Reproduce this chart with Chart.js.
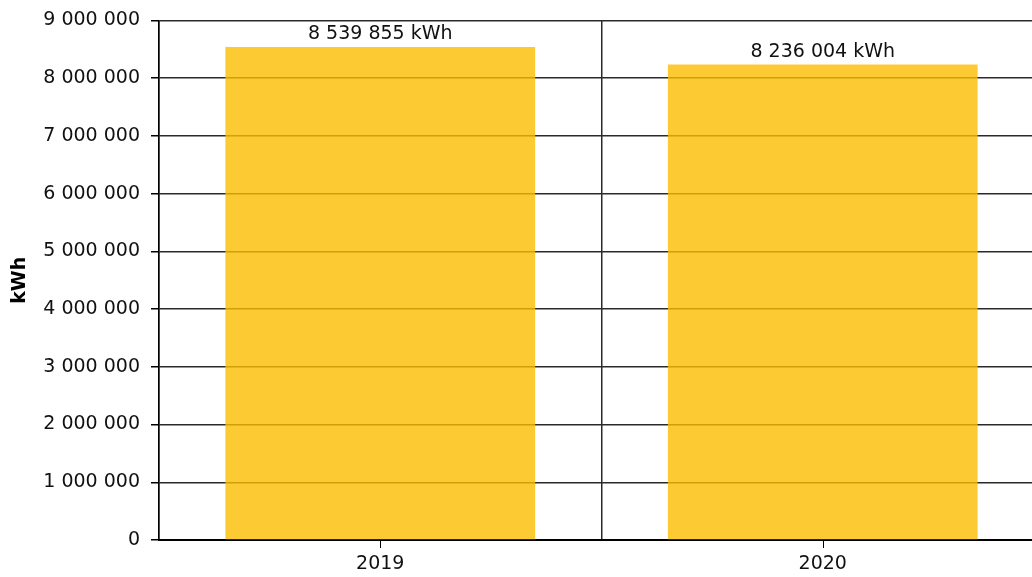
<!DOCTYPE html>
<html>
<head>
<meta charset="utf-8">
<script src="https://cdn.jsdelivr.net/npm/chart.js@4/dist/chart.umd.min.js"></script>
<style>
  html, body { margin: 0; padding: 0; background: #ffffff; overflow: hidden; }
  #wrap { width: 1032px; height: 577px; position: relative; overflow: hidden; }
</style>
</head>
<body>
<div id="wrap"><canvas id="c" width="1044" height="577"></canvas></div>
<script>
const categories = ['2019', '2020'];
const consumption = [8539855, 8236004];
const unit = 'kWh';
const yMax = 9000000;
const yStep = 1000000;

function fmt(v) {
  return String(Math.round(v)).replace(/\B(?=(\d{3})+(?!\d))/g, ' ');
}

const FONT = "'DejaVu Sans', Verdana, sans-serif";

const extras = {
  id: 'extras',
  afterDatasetsDraw(chart) {
    const ctx = chart.ctx;
    const meta = chart.getDatasetMeta(0);
    ctx.save();
    ctx.font = '19px ' + FONT;
    ctx.fillStyle = '#111111';
    ctx.textAlign = 'center';
    ctx.textBaseline = 'alphabetic';
    meta.data.forEach((bar, i) => {
      ctx.fillText(fmt(consumption[i]) + ' ' + unit, bar.x, bar.y - 8);
    });
    ctx.restore();
  },
  afterDraw(chart) {
    const ctx = chart.ctx;
    const xs = chart.scales.x;
    const bottom = chart.chartArea.bottom;
    ctx.save();
    ctx.strokeStyle = '#000000';
    ctx.lineWidth = 1;
    categories.forEach((c, i) => {
      const x = Math.round(xs.getPixelForValue(i)) + 0.5;
      ctx.beginPath();
      ctx.moveTo(x, bottom);
      ctx.lineTo(x, bottom + 8);
      ctx.stroke();
    });
    ctx.restore();
  }
};

new Chart(document.getElementById('c'), {
  type: 'bar',
  data: {
    labels: categories,
    datasets: [{
      data: consumption,
      backgroundColor: 'rgba(251,190,0,0.8)',
      borderWidth: 0,
      categoryPercentage: 0.7,
      barPercentage: 1.0
    }]
  },
  options: {
    responsive: false,
    animation: false,
    devicePixelRatio: 1,
    layout: { padding: { top: 19, right: 0, bottom: 0, left: 0 } },
    plugins: {
      legend: { display: false },
      tooltip: { enabled: false }
    },
    scales: {
      x: {
        offset: true,
        grid: {
          offset: true,
          drawTicks: false,
          color: '#2a2a2a',
          lineWidth: 1.5
        },
        border: { display: true, color: '#000000', width: 2 },
        ticks: {
          color: '#111111',
          font: { family: FONT, size: 19 },
          padding: 13,
          maxRotation: 0
        },
        afterFit(s) { s.height = 37; }
      },
      y: {
        min: 0,
        max: yMax,
        grid: {
          color: '#2a2a2a',
          lineWidth: 1.5,
          drawTicks: true,
          tickLength: 8,
          tickColor: '#000000'
        },
        border: { display: true, color: '#000000', width: 1.5 },
        ticks: {
          stepSize: yStep,
          color: '#111111',
          font: { family: FONT, size: 19, lineHeight: 1.0 },
          padding: 11,
          callback: (v) => fmt(v)
        },
        title: {
          display: true,
          text: unit,
          color: '#000000',
          font: { family: FONT, size: 19, weight: 'bold' },
          padding: { top: 9, bottom: 0 }
        },
        afterFit(s) { s.width = 159; }
      }
    }
  },
  plugins: [extras]
});
</script>
</body>
</html>
